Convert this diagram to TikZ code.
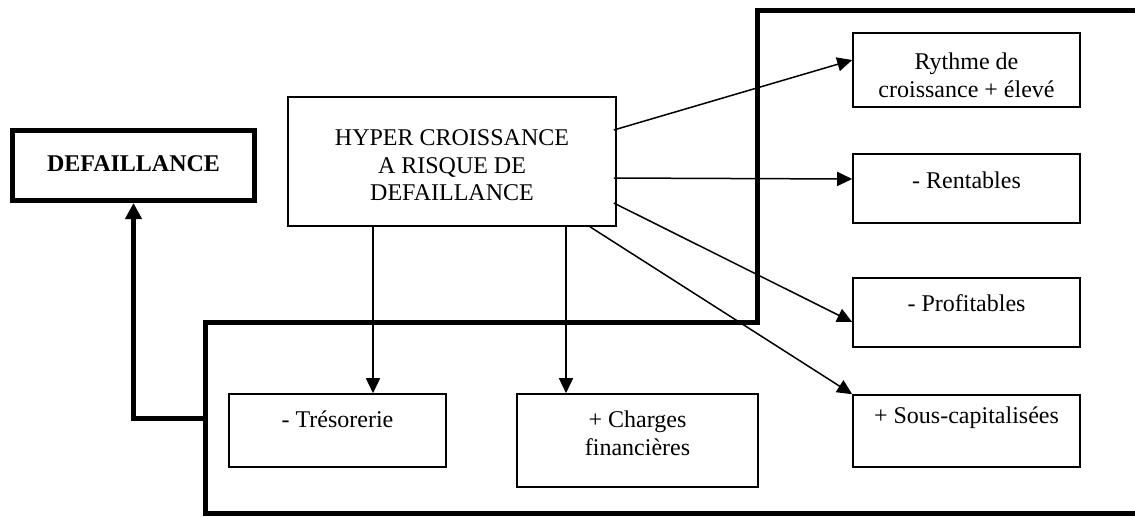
\documentclass[tikz,border=0pt]{standalone}
\usepackage{fontspec}
\setmainfont{Liberation Serif}
\usetikzlibrary{arrows.meta,calc}
\begin{document}
\begin{tikzpicture}[x=0.5pt,y=-0.5pt,
 box/.style={draw, line width=0.8pt, inner sep=0},
 thickbox/.style={draw, line width=2.5pt, inner sep=0},
 txt/.style={inner sep=0, align=center, font=\fontsize{12}{13.8}\selectfont},
 arr/.style={line width=0.75pt, -{Triangle[length=7.5pt,width=7pt]}},
 bigarr/.style={line width=2.5pt, line join=miter, -{Triangle[length=8pt,width=8pt]}},
 framepath/.style={line width=2.5pt, line join=miter}]
\useasboundingbox (0,0) rectangle (1135,516);

% boxes
\node[thickbox, minimum width=121pt, minimum height=35pt] (def) at (133.5,165.5) {};
\node[box, minimum width=164pt, minimum height=64.5pt] (hyp) at (452,161.5) {};
\node[box, minimum width=113.5pt, minimum height=37pt] (ryt) at (966.5,70) {};
\node[box, minimum width=113.5pt, minimum height=34.5pt] (ren) at (966.5,188.5) {};
\node[box, minimum width=113.5pt, minimum height=34.5pt] (pro) at (966.5,312.5) {};
\node[box, minimum width=113.5pt, minimum height=36pt] (sou) at (966.5,431) {};
\node[box, minimum width=108.5pt, minimum height=36.5pt] (tre) at (337.5,430.5) {};
\node[box, minimum width=120.5pt, minimum height=46.5pt] (cha) at (637.5,440.5) {};

% texts
\node[txt] (tdef) at (133.5,164) {\bfseries DEFAILLANCE};
\node[txt] (thyp) at (452,165.5) {HYPER CROISSANCE\\A RISQUE DE\\DEFAILLANCE};
\node[txt] (tryt) at (966.5,75) {Rythme de\\croissance + élevé};
\node[txt] (tren) at (966.5,180) {- Rentables};
\node[txt] (tpro) at (966.5,303) {- Profitables};
\node[txt] (tsou) at (966.5,418) {+ Sous-capitalisées};
\node[txt] (ttre) at (337.5,419) {- Trésorerie};
\node[txt] (tcha) at (637.5,433.5) {+ Charges\\financières};

% thick frame
\coordinate (f1) at (1140,10);
\coordinate (f2) at (757,10);
\coordinate (f3) at (757,322);
\coordinate (f4) at (205,322);
\coordinate (f5) at (205,513);
\coordinate (f6) at (1140,513);
\draw[framepath] (f1) -- (f2) -- (f3) -- (f4) -- (f5) -- (f6);

% thick arrow to DEFAILLANCE
\coordinate (fj) at (205,418);
\draw[bigarr] (fj) -| (def.south);

% thin arrows
\draw[arr] ($(hyp.east)+(-3,-31.5)$) -- ($(ryt.west)+(0,-10)$);
\draw[arr] ($(hyp.east)+(-3,16.5)$) -- ($(ren.west)+(0,-9.5)$);
\draw[arr] ($(hyp.east)+(-3,41.5)$) -- ($(pro.west)+(0,9.5)$);
\draw[arr] ($(hyp.south)+(138,0)$) -- (sou.north west);
\draw[arr] ($(hyp.south)+(-79,0)$) coordinate (v1) -- (v1 |- tre.north);
\draw[arr] ($(hyp.south)+(114,0)$) coordinate (v2) -- (v2 |- cha.north);
\end{tikzpicture}
\end{document}
